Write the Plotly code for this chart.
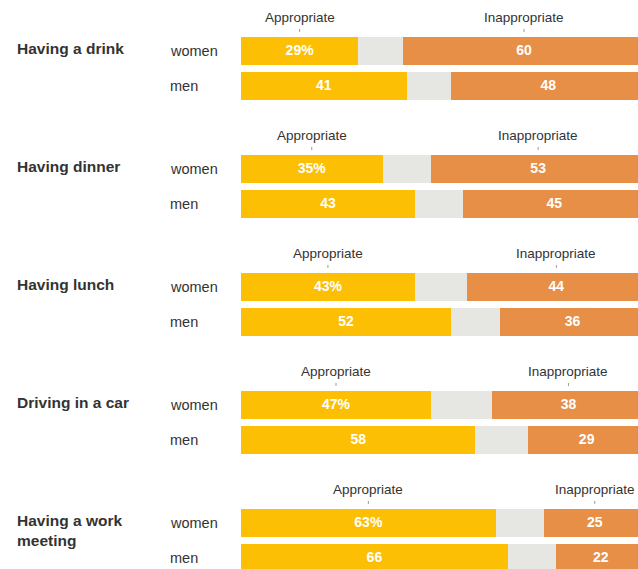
import plotly.graph_objects as go

# ---- data ----
activities = ["Having a drink", "Having dinner", "Having lunch",
              "Driving in a car", "Having a work<br>meeting"]
sexes = ["women", "men"]
women_appropriate = [29, 35, 43, 47, 63]
women_inappropriate = [60, 53, 44, 38, 25]
men_appropriate = [41, 43, 52, 58, 66]
men_inappropriate = [48, 45, 36, 29, 22]

# ---- styles ----
YELLOW = "#FDBF03"
GRAY = "#E6E7E2"
ORANGE = "#E78F47"
TXT = "#333333"
FONT = "Liberation Sans, Arial, sans-serif"

GROUP_PITCH = 118 / 35   # group spacing in row units
BAR_W = 0.8

women_y = [g * GROUP_PITCH for g in range(len(activities))]
men_y = [g * GROUP_PITCH + 1 for g in range(len(activities))]

ys, app, inap, app_txt = [], [], [], []
for g in range(len(activities)):
    ys += [women_y[g], men_y[g]]
    app += [women_appropriate[g], men_appropriate[g]]
    inap += [women_inappropriate[g], men_inappropriate[g]]
    app_txt += [f"{women_appropriate[g]}%", f"{men_appropriate[g]}"]
neu = [100 - a - i for a, i in zip(app, inap)]
inap_txt = [str(v) for v in inap]

fig = go.Figure()
fig.add_trace(go.Bar(y=ys, x=app, orientation="h", width=BAR_W,
                     marker=dict(color=YELLOW, line=dict(width=0)), hoverinfo="skip"))
fig.add_trace(go.Bar(y=ys, x=neu, orientation="h", width=BAR_W,
                     marker=dict(color=GRAY, line=dict(width=0)), hoverinfo="skip"))
fig.add_trace(go.Bar(y=ys, x=inap, orientation="h", width=BAR_W,
                     marker=dict(color=ORANGE, line=dict(width=0)), hoverinfo="skip"))

# value labels
tx = [a / 2 for a in app] + [100 - i / 2 for i in inap]
fig.add_trace(go.Scatter(x=tx, y=ys + ys, mode="text", text=app_txt + inap_txt,
                         textposition="middle center", cliponaxis=False,
                         textfont=dict(color="white", size=14, family=FONT, weight="bold"),
                         hoverinfo="skip"))

annotations = []
shapes = []
for g, act in enumerate(activities):
    wy = women_y[g]
    annotations.append(dict(xref="paper", yref="y", x=-0.569, y=wy - 0.36,
                            xanchor="left", yanchor="top", align="left",
                            text=f"<b>{act}</b>", showarrow=False,
                            font=dict(size=15.5, color=TXT, family=FONT)))
    for s, yy in zip(sexes, [women_y[g], men_y[g]]):
        annotations.append(dict(xref="paper", yref="y", x=-0.1836, y=yy,
                                xanchor="left", yanchor="middle", text=s,
                                showarrow=False,
                                font=dict(size=14.5, color=TXT, family=FONT)))
    ca = women_appropriate[g] / 2
    ci = 100 - women_inappropriate[g] / 2
    for cx, lab in [(ca, "Appropriate"), (ci, "Inappropriate")]:
        annotations.append(dict(xref="x", yref="y", x=cx, y=wy - 0.97,
                                xanchor="center", yanchor="middle", text=lab,
                                showarrow=False,
                                font=dict(size=13.5, color=TXT, family=FONT)))
        shapes.append(dict(type="line", xref="x", yref="y", x0=cx, x1=cx,
                           y0=wy - 0.63, y1=wy - 0.47,
                           line=dict(color="#999999", width=1, dash="dot")))

fig.update_layout(
    width=638, height=569,
    margin=dict(l=241, r=0, t=0, b=0),
    paper_bgcolor="white", plot_bgcolor="white",
    barmode="stack", bargap=0, showlegend=False,
    xaxis=dict(range=[0, 98.2], showgrid=False, zeroline=False,
               showticklabels=False, fixedrange=True),
    yaxis=dict(range=[14.8, -1.457], showgrid=False, zeroline=False,
               showticklabels=False, fixedrange=True),
    annotations=annotations, shapes=shapes,
    font=dict(family=FONT),
)

fig.write_html(
    "out.html",
    config={"displayModeBar": False},
    post_script="document.body.style.margin='0';"
                "document.documentElement.style.overflow='hidden';"
                "document.body.style.overflow='hidden';",
)
